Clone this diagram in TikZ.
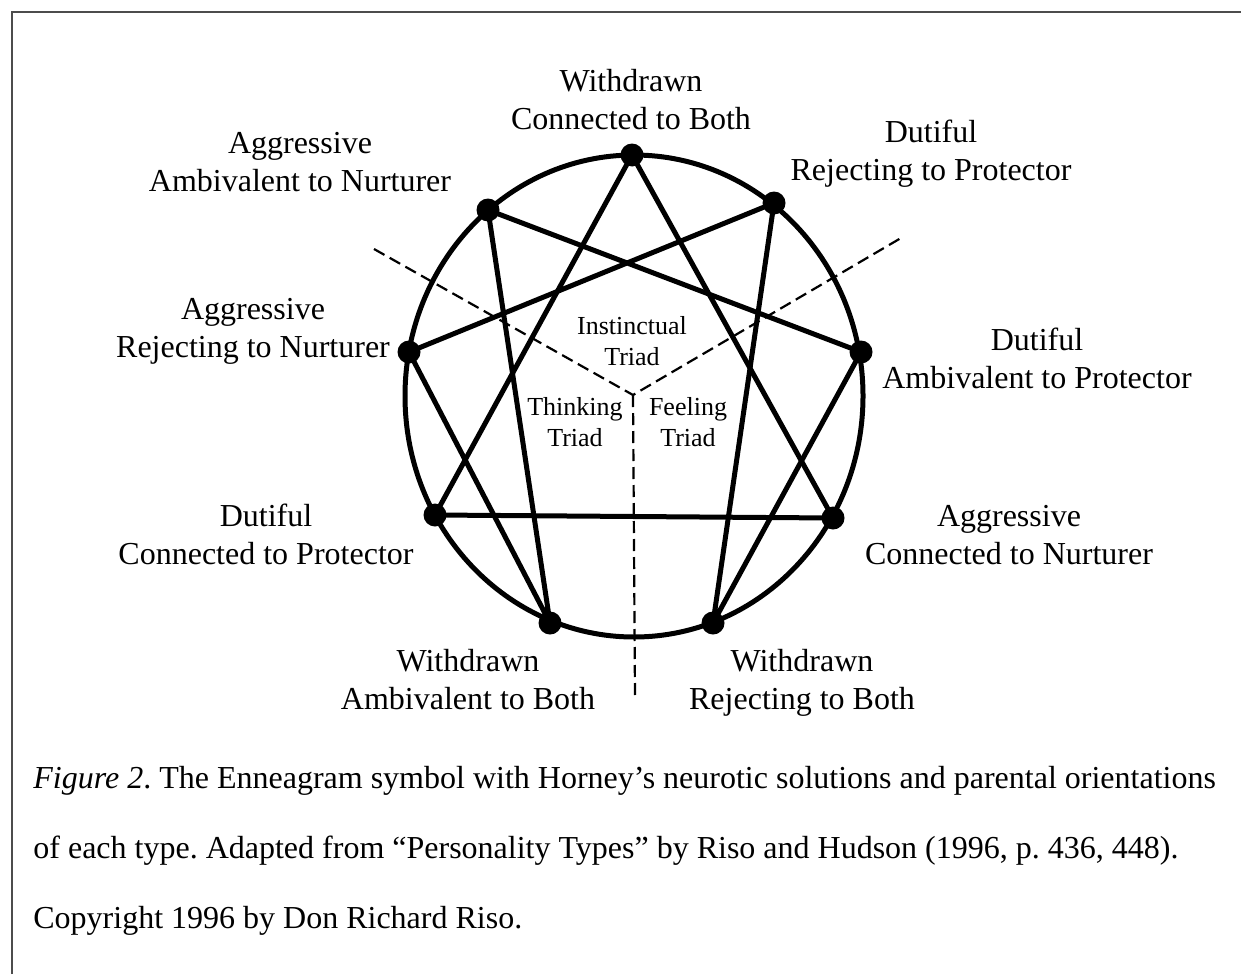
\documentclass[tikz,border=0pt]{standalone}
\usepackage{fontspec}
\setmainfont{Liberation Serif}
\frenchspacing
\begin{document}
\begin{tikzpicture}[x=0.5pt,y=-0.5pt,
  dot/.style={circle,fill,inner sep=0pt,minimum size=11.5pt},
  typelabel/.style={align=center,font=\fontsize{16}{19}\selectfont},
  triadlabel/.style={align=center,font=\fontsize{13}{15.5}\selectfont},
  ennealine/.style={line width=2.5pt},
  triadline/.style={line width=1.1pt,dash pattern=on 6pt off 3pt}]
  \useasboundingbox (0,0) rectangle (1241,974);
  \draw[line width=1pt,black!70] (12,974) -- (12,12) -- (1241,12);

  % circle
  \draw[ennealine] (634,396) ellipse [x radius=229, y radius=241];

  % triads
  \coordinate (mid) at (633,395);
  \coordinate (instL) at (374,249);
  \coordinate (instR) at (901,238);
  \coordinate (down) at (635,697);
  \draw[triadline] (instL) -- (mid) -- (instR);
  \draw[triadline] (mid) -- (down);

  % points
  \node[dot] (p9) at (632,155) {};
  \node[dot] (p1) at (774,203) {};
  \node[dot] (p2) at (861,352) {};
  \node[dot] (p3) at (833,518) {};
  \node[dot] (p4) at (713,623) {};
  \node[dot] (p5) at (550,623) {};
  \node[dot] (p6) at (435,515) {};
  \node[dot] (p7) at (409,352) {};
  \node[dot] (p8) at (488,210) {};

  % triangle
  \draw[ennealine, line join=round] (p9.center) -- (p3.center) -- (p6.center) -- cycle;
  % hexad
  \draw[ennealine, line join=round] (p1.center) -- (p4.center) -- (p2.center)
    -- (p8.center) -- (p5.center) -- (p7.center) -- cycle;

  \node[typelabel] (l9) at (631,100) {Withdrawn\\Connected to Both};
  \node[typelabel] (l1) at (931,154) {Dutiful\\Rejecting to Protector};
  \node[typelabel] (l2) at (1037,358) {Dutiful\\Ambivalent to Protector};
  \node[typelabel] (l3) at (1009,535) {Aggressive\\Connected to Nurturer};
  \node[typelabel] (l4) at (802,683) {Withdrawn\\Rejecting to Both};
  \node[typelabel] (l5) at (468,680) {Withdrawn\\Ambivalent to Both};
  \node[typelabel] (l6) at (266,534) {Dutiful\\Connected to Protector};
  \node[typelabel] (l7) at (253,331) {Aggressive\\Rejecting to Nurturer};
  \node[typelabel] (l8) at (300,162) {Aggressive\\Ambivalent to Nurturer};

  \node[triadlabel] (instinct) at (632,341) {Instinctual\\Triad};
  \node[triadlabel] (think) at (575,422) {Thinking\\Triad};
  \node[triadlabel] (feel) at (688,422) {Feeling\\Triad};

  % caption
  \node[anchor=base west,inner sep=0pt,align=left,
    font=\fontsize{16}{35}\selectfont] (caption) at (33,928)
    {\textit{Figure 2}. The Enneagram symbol with Horney’s neurotic solutions and parental orientations\\
     of each type. Adapted from “Personality Types” by Riso and Hudson (1996, p. 436, 448).\\
     Copyright 1996 by Don Richard Riso.};
\end{tikzpicture}
\end{document}
